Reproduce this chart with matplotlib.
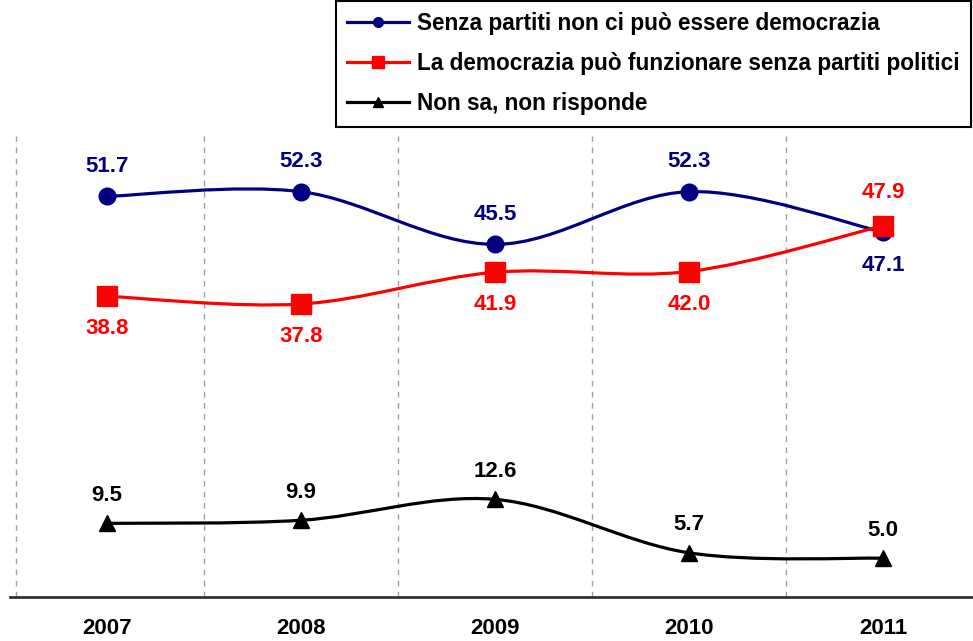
import matplotlib.pyplot as plt
from matplotlib.path import Path
from matplotlib.patches import PathPatch
from matplotlib.lines import Line2D

years = ['2007', '2008', '2009', '2010', '2011']
senza = [51.7, 52.3, 45.5, 52.3, 47.1]
funziona = [38.8, 37.8, 41.9, 42.0, 47.9]
non_sa = [9.5, 9.9, 12.6, 5.7, 5.0]

labels = ['Senza partiti non ci può essere democrazia',
          'La democrazia può funzionare senza partiti politici',
          'Non sa, non risponde']

plt.rcParams['font.family'] = ['Liberation Sans', 'DejaVu Sans']
plt.rcParams['font.weight'] = 'bold'

fig = plt.figure(figsize=(9.73, 6.41), dpi=100)
ax = fig.add_axes([10 / 973, 44 / 641, 970 / 973, 465 / 641])
ax.set_xlim(-0.5, 4.5)
ax.set_ylim(0, 60)


def smooth_path(xs, ys):
    # excel-like smoothed line: catmull-rom segments as cubic beziers
    pts = list(zip(xs, ys))
    verts = [pts[0]]
    codes = [Path.MOVETO]
    n = len(pts)
    for i in range(n - 1):
        p0 = pts[i - 1] if i > 0 else pts[i]
        p1 = pts[i]
        p2 = pts[i + 1]
        p3 = pts[i + 2] if i + 2 < n else pts[i + 1]
        c1 = (p1[0] + (p2[0] - p0[0]) / 6, p1[1] + (p2[1] - p0[1]) / 6)
        c2 = (p2[0] - (p3[0] - p1[0]) / 6, p2[1] - (p3[1] - p1[1]) / 6)
        verts += [c1, c2, p2]
        codes += [Path.CURVE4] * 3
    return Path(verts, codes)


x = list(range(len(years)))
series = [
    (senza, '#000080', 'o', 12, 7, labels[0]),
    (funziona, '#ff0000', 's', 14, 8, labels[1]),
    (non_sa, '#000000', '^', 11, 7, labels[2]),
]

for vals, col, mk, ms, lms, lab in series:
    ax.add_patch(PathPatch(smooth_path(x, vals), fill=False, edgecolor=col, lw=2.3, zorder=3))
    ax.plot(x, vals, linestyle='none', marker=mk, color=col, markersize=ms, zorder=4)

# data labels
for i, v in enumerate(senza):
    off = -4.3 if i == 4 else 3.9
    ax.text(i, v + off, f'{v:.1f}', color='#000080', ha='center', va='center', fontsize=16)
for i, v in enumerate(funziona):
    off = 4.3 if i == 4 else -4.2
    ax.text(i, v + off, f'{v:.1f}', color='#ff0000', ha='center', va='center', fontsize=16)
for i, v in enumerate(non_sa):
    ax.text(i, v + 3.6, f'{v:.1f}', color='#000000', ha='center', va='center', fontsize=16)

for gx in [-0.47, 0.5, 1.5, 2.5, 3.5]:
    ax.axvline(gx, color='#a0a0a0', lw=1, linestyle=(0, (4, 4)), zorder=1)

for s in ['top', 'left', 'right']:
    ax.spines[s].set_visible(False)
ax.spines['bottom'].set_color('#333333')
ax.spines['bottom'].set_linewidth(2)
ax.set_yticks([])
ax.set_xticks(x)
ax.set_xticklabels(years, fontsize=16)
ax.tick_params(axis='x', length=0, pad=15)

handles = [Line2D([], [], color=col, lw=2.3, marker=mk, markersize=lms)
           for vals, col, mk, ms, lms, lab in series]
leg = fig.legend(handles, labels, loc='upper right', bbox_to_anchor=(971 / 973, 1 - 1 / 641),
                 fontsize=16.3, frameon=True, fancybox=False, handlelength=2.75,
                 handletextpad=0.35, borderpad=0.5, labelspacing=0.75, borderaxespad=0)
leg.get_frame().set_edgecolor('#000000')
leg.get_frame().set_linewidth(1.5)
leg.get_frame().set_alpha(1)

fig.savefig('out.png', dpi=100)
